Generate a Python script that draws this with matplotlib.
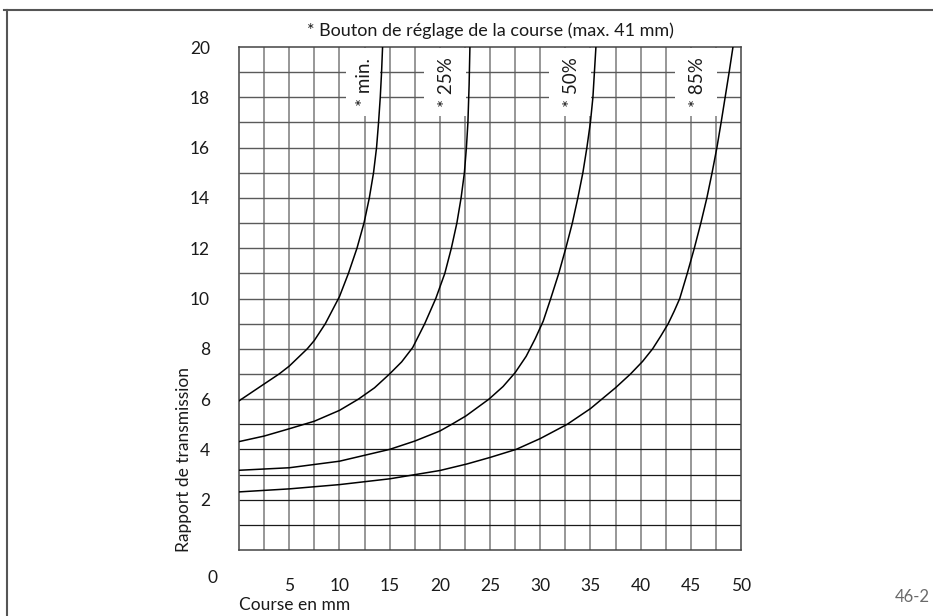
import numpy as np
import matplotlib
matplotlib.use("Agg")
import matplotlib.pyplot as plt
from matplotlib.patches import Rectangle
from matplotlib.lines import Line2D

plt.rcParams['font.family'] = ['Lato', 'DejaVu Sans']

# Données : course (mm) -> rapport de transmission
min_x = [0, 2.5, 4.0, 5.0, 6.8, 7.5, 8.6, 10.0, 10.9, 11.75, 12.45, 12.98, 13.4, 13.7, 13.9, 14.07, 14.2, 14.3]
min_y = [5.93, 6.6, 7.0, 7.31, 8.0, 8.33, 9.0, 10.07, 11.0, 12.0, 13.0, 14.0, 15.0, 16.0, 17.0, 18.0, 19.0, 20.0]

p25_x = [0, 2.5, 5.0, 7.5, 10.0, 11.9, 13.5, 15.0, 16.2, 17.3, 18.5, 19.6, 20.5, 21.15, 21.7, 22.12,
         22.45, 22.65, 22.8, 22.92, 23.0]
p25_y = [4.31, 4.53, 4.82, 5.12, 5.55, 6.0, 6.45, 7.0, 7.48, 8.05, 9.0, 10.0, 11.0, 12.0, 13.0, 14.0,
         15.0, 16.0, 17.0, 18.5, 20.0]

p50_x = [0, 5.0, 10.0, 15.0, 17.5, 20.0, 21.2, 22.6, 24.9, 26.3, 27.5, 28.6, 29.5, 30.3, 31.05, 31.85,
         32.55, 33.2, 33.75, 34.25, 34.65, 35.0, 35.25, 35.4, 35.55]
p50_y = [3.17, 3.27, 3.53, 4.0, 4.33, 4.73, 5.0, 5.33, 6.0, 6.5, 7.05, 7.7, 8.4, 9.1, 10.0, 11.0,
         12.0, 13.0, 14.0, 15.0, 16.0, 17.0, 18.0, 19.0, 20.0]

p85_x = [0, 5.0, 10.0, 15.0, 20.0, 22.7, 25.0, 27.6, 30.0, 32.7, 35.0, 37.5, 39.0, 40.2, 41.2,
         42.0, 42.75, 43.35, 43.9, 44.65, 45.35, 46.0, 46.6, 47.12, 47.6, 48.02, 48.42, 48.82, 49.2]
p85_y = [2.31, 2.43, 2.6, 2.83, 3.16, 3.42, 3.68, 4.0, 4.43, 5.0, 5.62, 6.45, 7.0, 7.5, 8.0,
         8.5, 9.0, 9.5, 10.0, 11.0, 12.0, 13.0, 14.0, 15.0, 16.0, 17.0, 18.0, 19.0, 20.0]

courbes = [(min_x, min_y), (p25_x, p25_y), (p50_x, p50_y), (p85_x, p85_y)]
etiquettes = ['* min.', '* 25%', '* 50%', '* 85%']
etiq_x = [12.5, 20.7, 33.1, 45.7]
# zones blanches derrière les étiquettes (début, fin en mm)
zones = [(10.7, 14.0), (18.4, 22.6), (30.9, 35.1), (43.4, 47.6)]

x_ticks = [5, 10, 15, 20, 25, 30, 35, 40, 45, 50]
y_ticks = [2, 4, 6, 8, 10, 12, 14, 16, 18, 20]

fig = plt.figure(figsize=(9.33, 6.16), dpi=100)
ax = fig.add_axes([239 / 933, 1 - 550 / 616, 502 / 933, 503 / 616])
ax.set_xlim(0, 50)
ax.set_ylim(0, 20)

# grille
ax.vlines(np.arange(2.5, 50, 2.5), 0, 20, color='#7a7a7a', lw=1.1, zorder=1)
ax.hlines(np.arange(6, 20, 1), 0, 50, color='#5a5a5a', lw=1.0, zorder=1)
ax.hlines(np.arange(1, 6, 1), 0, 50, color='#1a1a1a', lw=0.9, zorder=1)

for (x0, x1) in zones:
    ax.add_patch(Rectangle((x0, 17.25), x1 - x0, 2.72, facecolor='white',
                           edgecolor='none', zorder=2))

for (cx, cy) in courbes:
    ax.plot(cx, cy, color='black', lw=1.1, zorder=3, solid_joinstyle='round')

for txt, ex in zip(etiquettes, etiq_x):
    ax.text(ex, 18.6, txt, rotation=90, ha='center', va='center',
            fontsize=13.5, color='#1a1a1a', zorder=4)

for s in ax.spines.values():
    s.set_color('#444444')
    s.set_linewidth(1.1)

ax.set_xticks(x_ticks)
ax.set_yticks(y_ticks)
ax.tick_params(length=0, labelsize=12.5, labelcolor='#1a1a1a')
ax.tick_params(axis='x', pad=20)
ax.tick_params(axis='y', pad=21)

ax.set_title('* Bouton de réglage de la course (max. 41 mm)', fontsize=13,
             color='#1a1a1a', pad=8)

fig.text(212 / 933, 1 - 578 / 616, '0', fontsize=12.5, ha='center', va='center', color='#1a1a1a')
fig.text(239 / 933, 1 - 605 / 616, 'Course en mm', fontsize=12.5, ha='left', va='center',
         color='#1a1a1a')
fig.text(184 / 933, 1 - 460 / 616, 'Rapport de transmission', fontsize=12.5, rotation=90,
         ha='center', va='center', color='#1a1a1a')
fig.text(912 / 933, 1 - 597 / 616, '46-2', fontsize=12, ha='center', va='center', color='#6a6a6a')

# cadre
fig.add_artist(Line2D([4 / 933, 1.01], [1 - 9.5 / 616] * 2, color='#555555', lw=1.5))
fig.add_artist(Line2D([6.5 / 933] * 2, [-0.01, 1 - 9.5 / 616], color='#555555', lw=1.5))

fig.savefig('out.png', dpi=100)
